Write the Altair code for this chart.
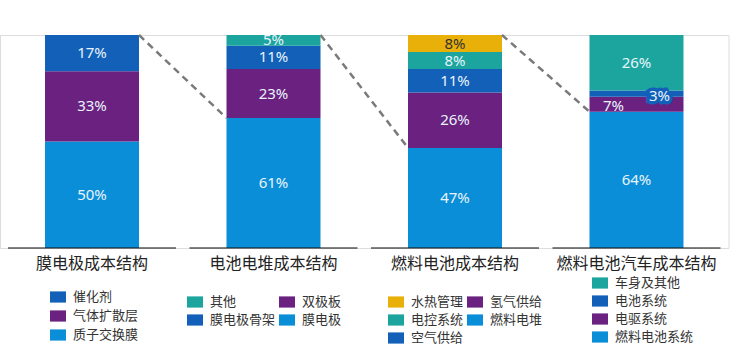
import altair as alt
import pandas as pd

panels = ["膜电极成本结构", "电池电堆成本结构", "燃料电池成本结构", "燃料电池汽车成本结构"]

# bottom -> top per panel
p1_items = ["质子交换膜", "气体扩散层", "催化剂"]
p1_vals = [50, 33, 17]
p2_items = ["膜电极", "双极板", "膜电极骨架", "其他"]
p2_vals = [61, 23, 11, 5]
p3_items = ["燃料电堆", "氢气供给", "空气供给", "电控系统", "水热管理"]
p3_vals = [47, 26, 11, 8, 8]
p4_items = ["燃料电池系统", "电驱系统", "电池系统", "车身及其他"]
p4_vals = [64, 7, 3, 26]

# legend orders (column-major as Vega fills legend grids)
l1_order = ["催化剂", "气体扩散层", "质子交换膜"]
l2_order = ["其他", "膜电极骨架", "双极板", "膜电极"]
l3_order = ["水热管理", "电控系统", "空气供给", "氢气供给", "燃料电堆"]
l4_order = ["车身及其他", "电池系统", "电驱系统", "燃料电池系统"]

LB = "#0b8ed8"
PU = "#6b2180"
DB = "#1260b8"
TE = "#1ba59e"
YE = "#e9b00a"
color_map = {
    "质子交换膜": LB, "气体扩散层": PU, "催化剂": DB,
    "膜电极": LB, "双极板": PU, "膜电极骨架": DB, "其他": TE,
    "燃料电堆": LB, "氢气供给": PU, "空气供给": DB, "电控系统": TE, "水热管理": YE,
    "燃料电池系统": LB, "电驱系统": PU, "电池系统": DB, "车身及其他": TE,
}

FONT = "Noto Sans, Noto Sans CJK SC"

rows = []
for pi, (items, vals) in enumerate([(p1_items, p1_vals), (p2_items, p2_vals),
                                    (p3_items, p3_vals), (p4_items, p4_vals)]):
    cum = 0
    for it, v in zip(items, vals):
        rows.append(dict(panel=panels[pi], pidx=pi, item=it, v=v,
                         y0=cum / 100, y1=(cum + v) / 100,
                         ym=(cum + v / 2) / 100, label=f"{v}%",
                         tc="#333333" if color_map[it] == YE else "#e8f4fc"))
        cum += v
df = pd.DataFrame(rows)

xscale = alt.Scale(domain=panels, paddingInner=0.482, paddingOuter=0.248)
xaxis = alt.Axis(title=None, domain=False, ticks=False, labelAngle=0,
                 labelFontSize=16, labelFont=FONT, labelColor="#222222",
                 labelPadding=7)
xenc = alt.X("panel:N", scale=xscale, sort=panels, axis=xaxis)
yscale = alt.Scale(domain=[0, 1], nice=False)

legend_pos = [(50, 254, 4), (187, 259, 3), (388, 259, 3), (592, 240, 3)]
orders = [l1_order, l2_order, l3_order, l4_order]
cols = [1, 2, 2, 1]

bar_layers = []
for pi in range(4):
    lx, ly, rp = legend_pos[pi]
    sub = df[df.pidx == pi]
    bar_layers.append(
        alt.Chart(sub).mark_bar().encode(
            x=xenc,
            y=alt.Y("y0:Q", scale=yscale, axis=None),
            y2="y1:Q",
            color=alt.Color("item:N",
                            scale=alt.Scale(domain=orders[pi],
                                            range=[color_map[k] for k in orders[pi]]),
                            legend=alt.Legend(orient="none", legendX=lx, legendY=ly,
                                              title=None, columns=cols[pi],
                                              rowPadding=rp, columnPadding=3,
                                              symbolType="M-1,-0.7L1,-0.7L1,0.7L-1,0.7Z",
                                              symbolSize=256, symbolStrokeWidth=0,
                                              labelFontSize=13, labelFont=FONT,
                                              labelColor="#333333", labelOffset=7,
                                              padding=0)),
        )
    )

special = ["电驱系统", "电池系统"]
main_lab = df[~df.item.isin(special)]
text_main = alt.Chart(main_lab).mark_text(fontSize=15, font=FONT, baseline="middle").encode(
    x=xenc, y=alt.Y("ym:Q", scale=yscale), text="label:N",
    color=alt.Color("tc:N", scale=None))

lab7 = df[df.item == "电驱系统"]
text7 = alt.Chart(lab7).mark_text(fontSize=15, font=FONT, dx=-23, dy=2, baseline="middle",
                                  color="#e8f4fc").encode(
    x=xenc, y=alt.Y("ym:Q", scale=yscale), text="label:N")

lab3 = df[df.item == "电池系统"]
box3 = alt.Chart(lab3).mark_text(fontSize=15, font=FONT, dx=23, dy=2, baseline="middle",
                                 color=DB, stroke=DB, strokeWidth=7,
                                 strokeJoin="miter", strokeMiterLimit=2).encode(
    x=xenc, y=alt.Y("ym:Q", scale=yscale), text="label:N")
text3 = alt.Chart(lab3).mark_text(fontSize=15, font=FONT, dx=23, dy=2, baseline="middle",
                                  color="#e8f4fc").encode(
    x=xenc, y=alt.Y("ym:Q", scale=yscale), text="label:N")

# dashed connectors
conn_from = [panels[0], panels[1], panels[2]]
conn_to = [panels[1], panels[2], panels[3]]
conn_ytop = [1.0, 1.0, 1.0]
conn_ybot = [p2_vals[0] / 100, p3_vals[0] / 100, p4_vals[0] / 100]
cdf = pd.DataFrame(dict(src=conn_from, dst=conn_to, ya=conn_ytop, yb=conn_ybot))
conn = alt.Chart(cdf).mark_rule(strokeDash=[7, 5], strokeWidth=2.5, color="#7a7a7a").encode(
    x=alt.X("src:N", scale=xscale, bandPosition=1, axis=xaxis),
    x2=alt.X2("dst:N", bandPosition=0),
    y=alt.Y("ya:Q", scale=yscale),
    y2="yb:Q")

base_df = pd.DataFrame(dict(panel=panels, z=[0, 0, 0, 0]))
baseline = alt.Chart(base_df).mark_tick(orient="horizontal", size=168, thickness=1.6,
                                        color="#111111").encode(
    x=xenc, y=alt.Y("z:Q", scale=yscale))

chart = alt.layer(*bar_layers, conn, baseline, text_main, text7, box3, text3).resolve_scale(
    color="independent"
).properties(
    width=728.5, height=213,
    autosize=alt.AutoSizeParams(type="none"),
    padding={"left": 0, "top": 35, "right": 4.5, "bottom": 108},
).configure_view(stroke=None).configure(background="white")

chart.save("out.html", embed_options={"renderer": "svg", "actions": False})
